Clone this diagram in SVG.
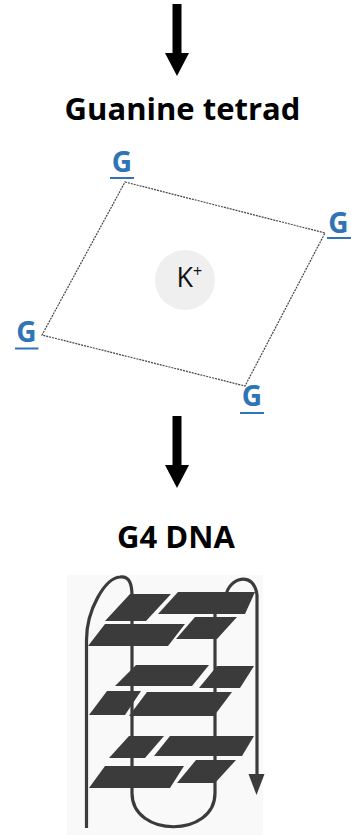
<svg xmlns="http://www.w3.org/2000/svg" width="351" height="835" viewBox="0 0 351 835">
  <style>
    .title { font-family: "Open Sans", "Liberation Sans", sans-serif; font-weight: 700; font-size: 31px; fill: #000; text-anchor: middle; }
    .base { font-family: "Open Sans", "Liberation Sans", sans-serif; font-weight: 700; font-size: 28px; fill: #2f74b5; text-anchor: middle; }
    .uline { stroke: #2f74b5; stroke-width: 2; }
    .ion { font-family: "Open Sans", "Liberation Sans", sans-serif; font-weight: 400; fill: #111; }
    .bond { fill: none; stroke: #444; stroke-width: 1.2; stroke-dasharray: 2 1; }
    .plate { fill: #3b3b3b; }
    .strand { fill: none; stroke: #3b3b3b; stroke-width: 3.2; stroke-linejoin: round; }
  </style>
  <defs>
    <!-- thick downward arrow, origin at the top of the shaft -->
    <g id="down-arrow">
      <rect x="-4.5" y="0" width="9" height="50" fill="#000"/>
      <polygon points="-12,49 12,49 0,72" fill="#000"/>
    </g>
  </defs>

  <rect width="351" height="835" fill="#fff"/>

  <!-- connectors -->
  <g id="connectors">
    <use href="#down-arrow" x="177" y="4"/>
    <use href="#down-arrow" x="177" y="416"/>
  </g>

  <g id="label-tetrad">
    <text class="title" x="182.5" y="120">Guanine tetrad</text>
  </g>

  <g id="tetrad">
    <polygon class="bond" points="125,182 325,233 245,386 42,335"/>
    <circle cx="185" cy="280" r="30" fill="#efefef"/>
    <text class="ion" x="176.5" y="287" font-size="27">K</text>
    <text class="ion" x="193" y="277" font-size="16">+</text>

    <text class="base" x="122" y="172">G</text>
    <line class="uline" x1="110" y1="178" x2="134" y2="178"/>
    <text class="base" x="338.5" y="233">G</text>
    <line class="uline" x1="327" y1="238" x2="351" y2="238"/>
    <text class="base" x="26.5" y="342">G</text>
    <line class="uline" x1="15" y1="348.5" x2="38.5" y2="348.5"/>
    <text class="base" x="252" y="406">G</text>
    <line class="uline" x1="240" y1="413" x2="264" y2="413"/>
  </g>

  <g id="label-g4">
    <text class="title" x="176" y="548">G4 DNA</text>
  </g>

  <g id="g4-structure">
    <rect x="67" y="575" width="196" height="260" fill="#f9f9f9"/>
    <!-- backbone strand: left loop, inner columns, bottom loop, right loop -->
    <path class="strand" d="M86.5,828 V640 C86.5,610 105,578 120,577 C130,576 132,585 132,596 V793 C132,838 215,838 215,793 V612 L226,596 C228,578 254,570 257,595 V777"/>
    <polygon points="248.5,774 264.5,774 256.5,795" fill="#3b3b3b"/>

    <!-- tetrad 1 -->
    <polygon class="plate" points="130,594 171,594 146,621 105,621"/>
    <polygon class="plate" points="178,592 255,592 245,614 158,614"/>
    <polygon class="plate" points="105,624 185,624 168,646 88,646"/>
    <polygon class="plate" points="195,617 237,617 217,639 176,639"/>
    <!-- tetrad 2 -->
    <polygon class="plate" points="136,665 209,665 192,686 115,686"/>
    <polygon class="plate" points="217,666 254,666 240,688 199,688"/>
    <polygon class="plate" points="107,691 141,691 125,715 89,715"/>
    <polygon class="plate" points="147,692 232,692 214,716 129,716"/>
    <!-- tetrad 3 -->
    <polygon class="plate" points="129,736 164,736 145,758 109,758"/>
    <polygon class="plate" points="170,736 254,736 242,756 154,756"/>
    <polygon class="plate" points="105,766 184,766 170,788 89,788"/>
    <polygon class="plate" points="196,760 236,760 215,783 177,783"/>
  </g>
</svg>
